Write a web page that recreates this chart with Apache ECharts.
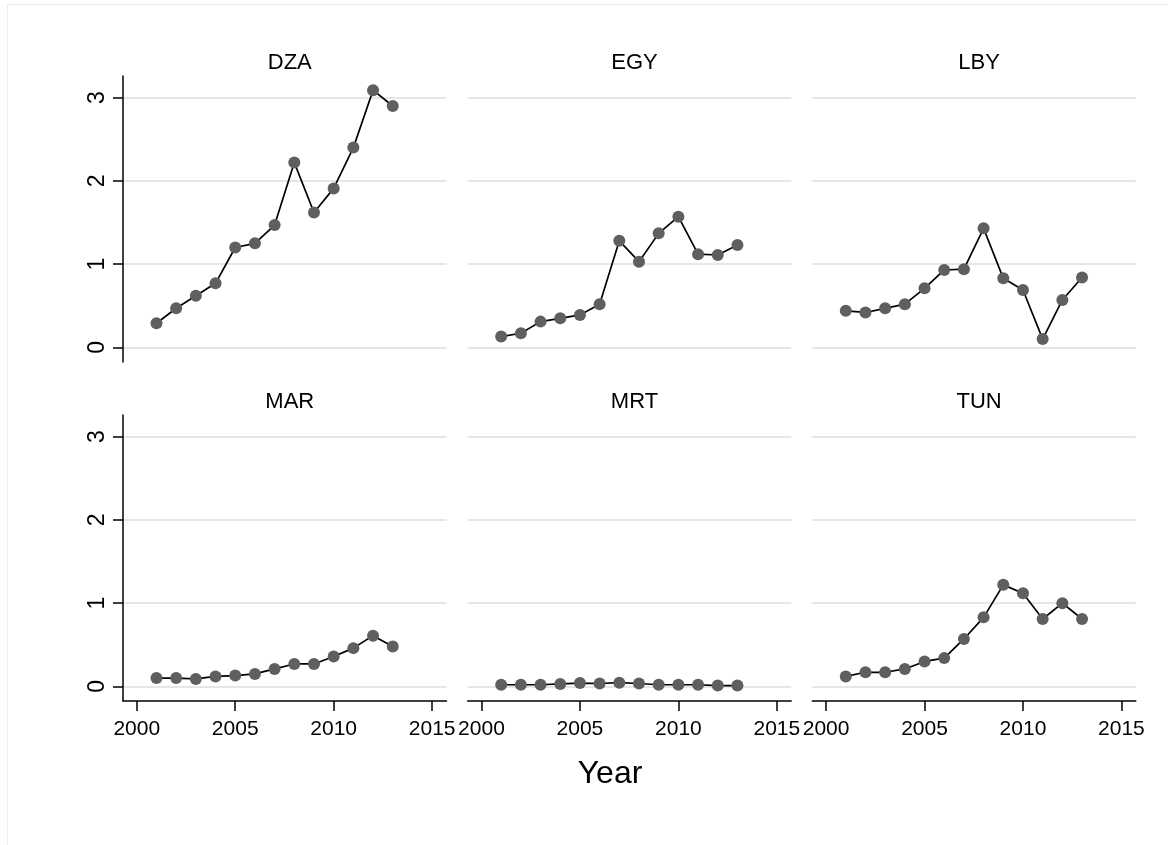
<!DOCTYPE html>
<html>
<head>
<meta charset="utf-8">
<script src="https://cdn.jsdelivr.net/npm/echarts@6/dist/echarts.min.js"></script>
<style>
  html, body { margin: 0; padding: 0; background: #fff; }
  #chart { width: 1168px; height: 845px; }
</style>
</head>
<body>
<div id="chart"></div>
<script>
// years and values per country
const years = [2001, 2002, 2003, 2004, 2005, 2006, 2007, 2008, 2009, 2010, 2011, 2012, 2013]
const countries = ['DZA', 'EGY', 'LBY', 'MAR', 'MRT', 'TUN']
const dza = [0.29, 0.47, 0.62, 0.77, 1.20, 1.25, 1.47, 2.22, 1.62, 1.91, 2.40, 3.09, 2.90]
const egy = [0.13, 0.17, 0.31, 0.35, 0.39, 0.52, 1.28, 1.03, 1.37, 1.57, 1.12, 1.11, 1.23]
const lby = [0.44, 0.42, 0.47, 0.52, 0.71, 0.93, 0.94, 1.43, 0.83, 0.69, 0.10, 0.57, 0.84]
const mar = [0.10, 0.10, 0.09, 0.12, 0.13, 0.15, 0.21, 0.27, 0.27, 0.36, 0.46, 0.61, 0.48]
const mrt = [0.02, 0.02, 0.02, 0.03, 0.04, 0.035, 0.045, 0.035, 0.02, 0.02, 0.02, 0.01, 0.01]
const tun = [0.12, 0.17, 0.17, 0.21, 0.30, 0.34, 0.57, 0.83, 1.22, 1.12, 0.81, 1.00, 0.81]
const xTicks = [2000, 2005, 2010, 2015]
const yTicks = [0, 1, 2, 3]

const values = [dza, egy, lby, mar, mrt, tun]

// panel layout
const colLeft = [123, 467.7, 812.3]
const rowTop = [76, 415]
const panelW = 323.5
const panelH = 286

const font = 'Liberation Sans, Arial, sans-serif'

const grids = []
const xAxes = []
const yAxes = []
const series = []
const titles = []

countries.forEach((name, i) => {
  const row = Math.floor(i / 3)
  const col = i % 3
  const isBottom = row === 1
  const isLeft = col === 0

  grids.push({left: colLeft[col], top: rowTop[row], width: panelW, height: panelH, containLabel: false})

  xAxes.push({
    type: 'value',
    gridIndex: i,
    min: 1999.3,
    max: 2015.73,
    show: isBottom,
    axisLine: {show: true, onZero: false, lineStyle: {color: '#000', width: 1.5}},
    axisTick: {show: true, length: 10, customValues: xTicks, lineStyle: {color: '#000', width: 1.5}},
    axisLabel: {show: true, customValues: xTicks, fontSize: 21, color: '#000', fontFamily: font, margin: 18,
      formatter: (v) => String(Math.round(v))},
    splitLine: {show: false},
  })

  yAxes.push({
    type: 'value',
    gridIndex: i,
    min: -0.175,
    max: 3.26,
    axisLine: {show: isLeft, onZero: false, lineStyle: {color: '#000', width: 1.5}},
    axisTick: {show: isLeft, length: 10, customValues: yTicks, lineStyle: {color: '#000', width: 1.5}},
    axisLabel: {show: isLeft, customValues: yTicks, rotate: 90, fontSize: 23, color: '#000', fontFamily: font, margin: 14,
      formatter: (v) => String(Math.round(v))},
    splitLine: {show: true, lineStyle: {color: '#e6e6e6', width: 2}},
  })

  series.push({
    type: 'line',
    name,
    xAxisIndex: i,
    yAxisIndex: i,
    data: years.map((y, k) => [y, values[i][k]]),
    symbol: 'circle',
    symbolSize: 12,
    showSymbol: true,
    itemStyle: {color: '#5f5f5f'},
    lineStyle: {color: '#000', width: 1.7},
    emphasis: {disabled: true},
  })

  titles.push({
    text: name,
    left: colLeft[col] + panelW / 2,
    top: row === 0 ? 47 : 386,
    textAlign: 'center',
    textStyle: {fontSize: 22, fontWeight: 'normal', color: '#000', fontFamily: font},
  })
})

titles.push({
  text: 'Year',
  left: 605,
  top: 753,
  textAlign: 'center',
  textStyle: {fontSize: 32, fontWeight: 'normal', color: '#000', fontFamily: font},
})

const chart = echarts.init(document.getElementById('chart'), null, {renderer: 'canvas'})
chart.setOption({
  animation: false,
  backgroundColor: '#fff',
  title: titles,
  grid: grids,
  xAxis: xAxes,
  yAxis: yAxes,
  series,
  graphic: [{
    type: 'rect',
    shape: {x: 7.5, y: 4.5, width: 1200, height: 900},
    style: {fill: 'none', stroke: '#ededed', lineWidth: 1},
    silent: true,
  }],
})
</script>
</body>
</html>
